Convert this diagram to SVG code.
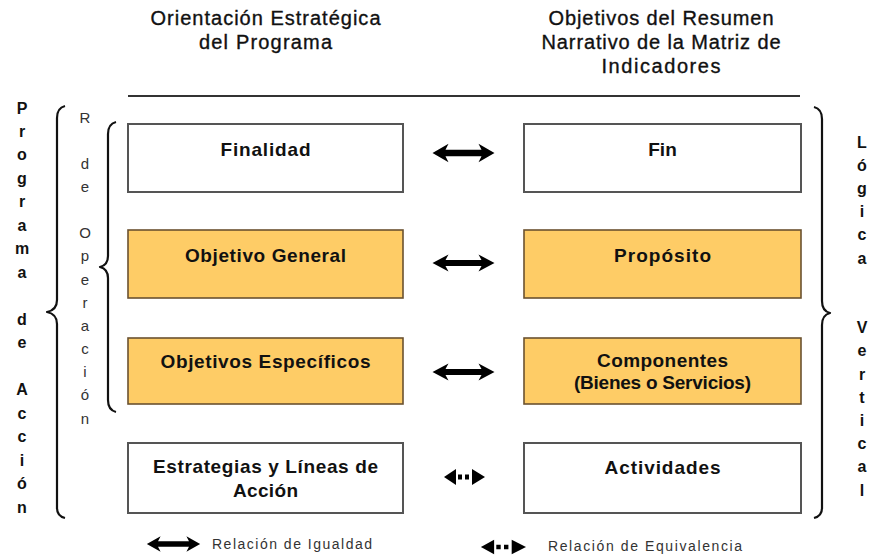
<svg xmlns="http://www.w3.org/2000/svg" width="869" height="556" viewBox="0 0 869 556">
<style>
.hdr{font-family:"Liberation Sans",Arial,sans-serif;font-size:20px;fill:#111;stroke:#111;stroke-width:0.35;text-anchor:middle}
.bx{font-family:"Liberation Sans",Arial,sans-serif;font-size:19px;font-weight:bold;fill:#111;text-anchor:middle}
.wbox{fill:#fff;stroke:#555;stroke-width:2}
.obox{fill:#FECC66;stroke:#6b5230;stroke-width:1.6}
.vb{font-family:"Liberation Sans",Arial,sans-serif;font-size:16px;font-weight:bold;fill:#111;text-anchor:middle}
.vr{font-family:"Liberation Sans",Arial,sans-serif;font-size:15px;fill:#333;text-anchor:middle}
.brace{fill:none;stroke:#111;stroke-width:2.2;stroke-linejoin:round}
.leg{font-family:"Liberation Sans",Arial,sans-serif;font-size:14px;fill:#333}
.arr{fill:#000}
</style>
<defs>
<path id="solidArrow" d="M-31,0 L-15,-8.5 L-18,-3 L18,-3 L15,-8.5 L31,0 L15,8.5 L18,3 L-18,3 L-15,8.5 Z"/>
<g id="dotArrow">
<path d="M-21,0 L-9,-8 L-9,8 Z"/>
<rect x="-7" y="-2.5" width="4" height="5"/>
<rect x="0" y="-2.5" width="4" height="5"/>
<path d="M7,-8 L20,0 L7,8 Z"/>
</g>
</defs>

<g id="headers">
<text class="hdr" x="265.5" y="25" textLength="230" lengthAdjust="spacing">Orientación Estratégica</text>
<text class="hdr" x="265.5" y="49" textLength="133" lengthAdjust="spacing">del Programa</text>
<text class="hdr" x="661" y="25" textLength="225" lengthAdjust="spacing">Objetivos del Resumen</text>
<text class="hdr" x="661" y="49" textLength="239" lengthAdjust="spacing">Narrativo de la Matriz de</text>
<text class="hdr" x="661" y="73" textLength="119" lengthAdjust="spacing">Indicadores</text>
<line x1="128" y1="96" x2="800" y2="96" stroke="#333" stroke-width="2"/>
</g>

<g id="finalidad">
<rect class="wbox" x="128" y="124" width="275" height="68"/>
<text class="bx" x="265.5" y="156" textLength="90" lengthAdjust="spacing">Finalidad</text>
</g>
<g id="fin">
<rect class="wbox" x="524" y="124" width="277" height="68"/>
<text class="bx" x="662.5" y="156">Fin</text>
</g>
<g id="objetivo-general">
<rect class="obox" x="128" y="230" width="275" height="68"/>
<text class="bx" x="265.5" y="262" textLength="161" lengthAdjust="spacing">Objetivo General</text>
</g>
<g id="proposito">
<rect class="obox" x="524" y="230" width="277" height="68"/>
<text class="bx" x="662.5" y="262" textLength="97" lengthAdjust="spacing">Propósito</text>
</g>
<g id="objetivos-especificos">
<rect class="obox" x="128" y="338" width="275" height="66"/>
<text class="bx" x="265.5" y="368" textLength="210" lengthAdjust="spacing">Objetivos Específicos</text>
</g>
<g id="componentes">
<rect class="obox" x="524" y="338" width="277" height="66"/>
<text class="bx" x="662.5" y="367" textLength="131" lengthAdjust="spacing">Componentes</text>
<text class="bx" x="662.5" y="389" textLength="177" lengthAdjust="spacing">(Bienes o Servicios)</text>
</g>
<g id="estrategias">
<rect class="wbox" x="128" y="443" width="275" height="70"/>
<text class="bx" x="265.5" y="473" textLength="225" lengthAdjust="spacing">Estrategias y Líneas de</text>
<text class="bx" x="265.5" y="497" textLength="65" lengthAdjust="spacing">Acción</text>
</g>
<g id="actividades">
<rect class="wbox" x="524" y="443" width="277" height="70"/>
<text class="bx" x="662.5" y="474" textLength="116" lengthAdjust="spacing">Actividades</text>
</g>

<g id="connectors">
<use href="#solidArrow" class="arr" transform="translate(463.5,153) scale(1,1.1)"/>
<use href="#solidArrow" class="arr" transform="translate(463.5,263)"/>
<use href="#solidArrow" class="arr" transform="translate(463.5,372)"/>
<use href="#dotArrow" class="arr" transform="translate(465,477)"/>
</g>

<g id="braces">
<path class="brace" d="M65,106 Q57,108 57,118 L57,300 Q57,310 47,312 Q57,314 57,324 L57,508 Q57,516 65,518"/>
<path class="brace" d="M116,122 Q108,124 108,134 L108,256 Q108,265 100,267 Q108,269 108,278 L108,400 Q108,410 116,412"/>
<path class="brace" d="M814,107 Q822,109 822,119 L822,301 Q822,311 830,313 Q822,315 822,325 L822,508 Q822,516 814,518"/>
</g>

<g id="programa-de-accion">
<text class="vb" x="22" y="113.5">P</text>
<text class="vb" x="22" y="137">r</text>
<text class="vb" x="22" y="160.4">o</text>
<text class="vb" x="22" y="183.9">g</text>
<text class="vb" x="22" y="207.4">r</text>
<text class="vb" x="22" y="230.9">a</text>
<text class="vb" x="22" y="254.3">m</text>
<text class="vb" x="22" y="277.8">a</text>
<text class="vb" x="22" y="324.7">d</text>
<text class="vb" x="22" y="348.2">e</text>
<text class="vb" x="22" y="395.1">A</text>
<text class="vb" x="22" y="418.6">c</text>
<text class="vb" x="22" y="442.1">c</text>
<text class="vb" x="22" y="465.5">i</text>
<text class="vb" x="22" y="489">ó</text>
<text class="vb" x="22" y="512.5">n</text>
</g>

<g id="r-de-operacion">
<text class="vr" x="85" y="122.5">R</text>
<text class="vr" x="85" y="168.8">d</text>
<text class="vr" x="85" y="192">e</text>
<text class="vr" x="85" y="238.3">O</text>
<text class="vr" x="85" y="261.4">p</text>
<text class="vr" x="85" y="284.6">e</text>
<text class="vr" x="85" y="307.7">r</text>
<text class="vr" x="85" y="330.9">a</text>
<text class="vr" x="85" y="354">c</text>
<text class="vr" x="85" y="377.2">i</text>
<text class="vr" x="85" y="400.3">ó</text>
<text class="vr" x="85" y="423.5">n</text>
</g>

<g id="logica-vertical">
<text class="vb" x="862" y="147.5">L</text>
<text class="vb" x="862" y="170.7">ó</text>
<text class="vb" x="862" y="193.9">g</text>
<text class="vb" x="862" y="217.1">i</text>
<text class="vb" x="862" y="240.3">c</text>
<text class="vb" x="862" y="263.5">a</text>
<text class="vb" x="862" y="333.1">V</text>
<text class="vb" x="862" y="356.3">e</text>
<text class="vb" x="862" y="379.5">r</text>
<text class="vb" x="862" y="402.7">t</text>
<text class="vb" x="862" y="425.9">i</text>
<text class="vb" x="862" y="449.1">c</text>
<text class="vb" x="862" y="472.3">a</text>
<text class="vb" x="862" y="495.5">l</text>
</g>

<g id="legend">
<use href="#solidArrow" class="arr" transform="translate(173.5,544) scale(0.86,0.9)"/>
<text class="leg" x="212" y="549" textLength="160" lengthAdjust="spacing">Relación de Igualdad</text>
<use href="#dotArrow" class="arr" transform="translate(504,547) scale(1.1,0.9)"/>
<text class="leg" x="548" y="551" textLength="194" lengthAdjust="spacing">Relación de Equivalencia</text>
</g>
</svg>
